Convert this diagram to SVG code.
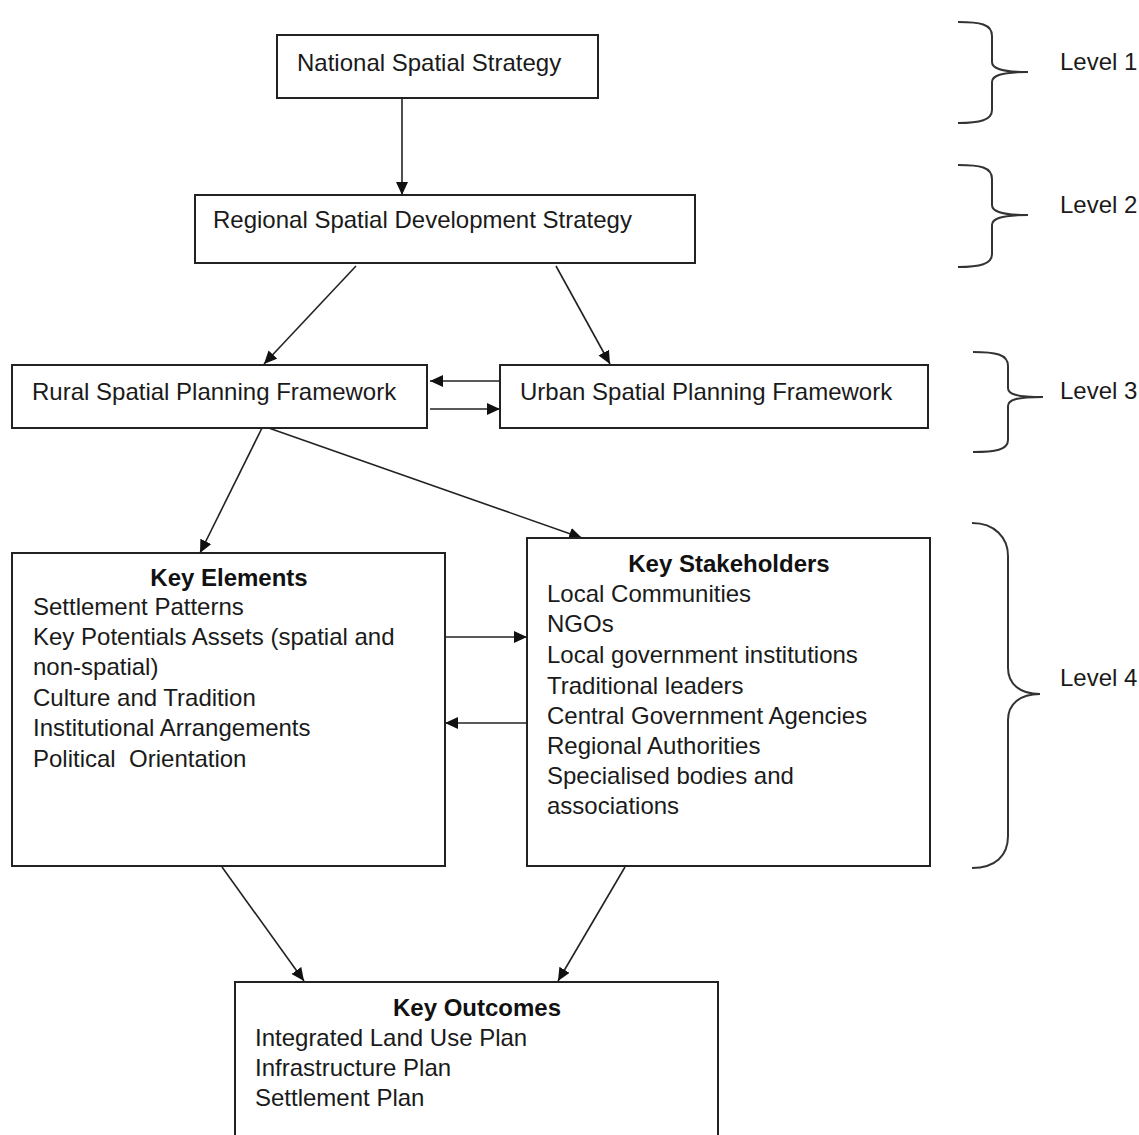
<svg xmlns="http://www.w3.org/2000/svg" width="1139" height="1135" viewBox="0 0 1139 1135">
<style>
  .box { fill: #ffffff; stroke: #222222; stroke-width: 2; }
  .t { font-family: "Liberation Sans", Arial, sans-serif; font-size: 24px; fill: #1a1a1a; }
  .h { font-family: "Liberation Sans", Arial, sans-serif; font-size: 24px; font-weight: bold; fill: #111111; text-anchor: middle; }
  .c { stroke: #222222; stroke-width: 1.6; fill: none; marker-end: url(#ah); }
  .brace { stroke: #333333; stroke-width: 2; fill: none; }
</style>
<defs>
  <marker id="ah" markerUnits="userSpaceOnUse" markerWidth="14" markerHeight="12" refX="13" refY="6" orient="auto">
    <path d="M0,0 L13,6 L0,12 Z" fill="#111111"/>
  </marker>
</defs>
<rect width="1139" height="1135" fill="#ffffff"/>

<g id="connectors">
  <line class="c" x1="402" y1="98" x2="402" y2="195"/>
  <line class="c" x1="356" y1="266" x2="264" y2="364"/>
  <line class="c" x1="556" y1="266" x2="610" y2="364"/>
  <line class="c" x1="500" y1="381" x2="430" y2="381"/>
  <line class="c" x1="430" y1="409" x2="500" y2="409"/>
  <line class="c" x1="263" y1="426" x2="200" y2="553"/>
  <line class="c" x1="263" y1="426" x2="582" y2="538"/>
  <line class="c" x1="445" y1="637" x2="527" y2="637"/>
  <line class="c" x1="527" y1="723" x2="445" y2="723"/>
  <line class="c" x1="222" y1="867" x2="304" y2="981"/>
  <line class="c" x1="625" y1="867" x2="558" y2="981"/>
</g>

<g id="national">
  <rect class="box" x="277" y="35" width="321" height="63"/>
  <text class="t" x="297" y="71">National Spatial Strategy</text>
</g>

<g id="regional">
  <rect class="box" x="195" y="195" width="500" height="68"/>
  <text class="t" x="213" y="228">Regional Spatial Development Strategy</text>
</g>

<g id="rural">
  <rect class="box" x="12" y="365" width="415" height="63"/>
  <text class="t" x="32" y="400">Rural Spatial Planning Framework</text>
</g>

<g id="urban">
  <rect class="box" x="500" y="365" width="428" height="63"/>
  <text class="t" x="520" y="400">Urban Spatial Planning Framework</text>
</g>

<g id="key-elements">
  <rect class="box" x="12" y="553" width="433" height="313"/>
  <text class="h" x="229" y="586">Key Elements</text>
  <text class="t" x="33" y="615">Settlement Patterns</text>
  <text class="t" x="33" y="645">Key Potentials Assets (spatial and</text>
  <text class="t" x="33" y="675">non-spatial)</text>
  <text class="t" x="33" y="706">Culture and Tradition</text>
  <text class="t" x="33" y="736">Institutional Arrangements</text>
  <text class="t" x="33" y="767" xml:space="preserve">Political  Orientation</text>
</g>

<g id="key-stakeholders">
  <rect class="box" x="527" y="538" width="403" height="328"/>
  <text class="h" x="729" y="572">Key Stakeholders</text>
  <text class="t" x="547" y="602">Local Communities</text>
  <text class="t" x="547" y="632">NGOs</text>
  <text class="t" x="547" y="663">Local government institutions</text>
  <text class="t" x="547" y="694">Traditional leaders</text>
  <text class="t" x="547" y="724">Central Government Agencies</text>
  <text class="t" x="547" y="754">Regional Authorities</text>
  <text class="t" x="547" y="784">Specialised bodies and</text>
  <text class="t" x="547" y="814">associations</text>
</g>

<g id="key-outcomes">
  <rect class="box" x="235" y="982" width="483" height="170"/>
  <text class="h" x="477" y="1016">Key Outcomes</text>
  <text class="t" x="255" y="1046">Integrated Land Use Plan</text>
  <text class="t" x="255" y="1076">Infrastructure Plan</text>
  <text class="t" x="255" y="1106">Settlement Plan</text>
</g>

<g id="level-1">
  <path class="brace" d="M958,22 C980,22 992,24 992,36 L992,62 C992,68 1000,72 1028,72 C1000,72 992,76 992,82 L992,110 C992,120 980,123 958,123"/>
  <text class="t" x="1060" y="70">Level 1</text>
</g>
<g id="level-2">
  <path class="brace" d="M958,165 C980,165 992,167 992,179 L992,205 C992,211 1000,215 1028,215 C1000,215 992,219 992,225 L992,254 C992,264 980,267 958,267"/>
  <text class="t" x="1060" y="213">Level 2</text>
</g>
<g id="level-3">
  <path class="brace" d="M973,352 C995,352 1008,354 1008,366 L1008,388 C1008,394 1016,397 1043,397 C1016,397 1008,400 1008,406 L1008,440 C1008,450 995,452 973,452"/>
  <text class="t" x="1060" y="399">Level 3</text>
</g>
<g id="level-4">
  <path class="brace" d="M972,523 C995,523 1008,538 1008,556 L1008,668 C1008,684 1020,694 1040,694 C1020,694 1008,704 1008,720 L1008,836 C1008,856 995,868 972,868"/>
  <text class="t" x="1060" y="686">Level 4</text>
</g>
</svg>
